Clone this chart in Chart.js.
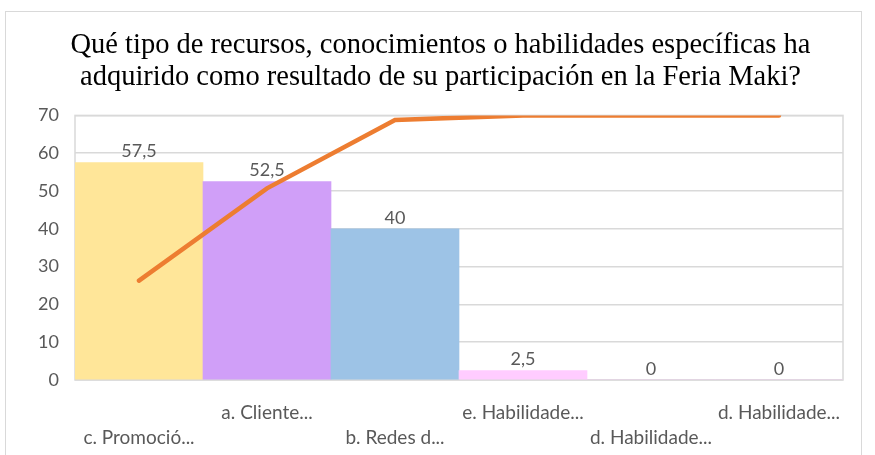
<!DOCTYPE html>
<html>
<head>
<meta charset="utf-8">
<script src="https://cdn.jsdelivr.net/npm/chart.js@4/dist/chart.umd.min.js"></script>
<style>
  html, body { margin: 0; padding: 0; background: #fff; }
  #wrap { position: relative; width: 875px; height: 455px; }
  #frame { position: absolute; left: 5px; top: 11px; width: 857px; height: 460px; border: 1px solid #d9d9d9; box-sizing: border-box; }
  canvas { position: absolute; left: 0; top: 0; }
</style>
</head>
<body>
<div id="wrap">
  <div id="frame"></div>
  <canvas id="chart" width="875" height="455"></canvas>
</div>
<script>
// category labels (truncated as in the picture)
const CATEGORIES = ["c. Promoció...", "a. Cliente...", "b. Redes d...", "e. Habilidade...", "d. Habilidade...", "d. Habilidade..."]
// bar values
const BAR_VALUES = [57.5, 52.5, 40, 2.5, 0, 0]
// orange line values
const LINE_VALUES = [26.3, 50.7, 68.8, 70, 70, 70]
const BAR_COLORS = ["#FFE699", "#D09FF8", "#9DC3E6", "#FFCCFF", "#FFCCFF", "#FFCCFF"]
const Y_TICKS = [0, 10, 20, 30, 40, 50, 60, 70]

const TICK_FONT = "Lato"
const GRAY = "#595959"

// labels staggered on two rows: odd ones on top row, even ones on bottom row
const xLabels = CATEGORIES.map((c, i) => i % 2 == 0 ? ["", c] : [c])

// bar value labels + frame around plot area
const extras = {
    id: "extras",
    beforeDatasetsDraw(chart) {
        const { ctx, chartArea } = chart
        ctx.save()
        ctx.strokeStyle = "#d9d9d9"
        ctx.lineWidth = 1.5
        ctx.strokeRect(chartArea.left, chartArea.top, chartArea.right - chartArea.left, chartArea.bottom - chartArea.top)
        ctx.restore()
    },
    afterDatasetsDraw(chart) {
        const { ctx } = chart
        const meta = chart.getDatasetMeta(1)
        ctx.save()
        ctx.font = "18px " + TICK_FONT
        ctx.fillStyle = GRAY
        ctx.textAlign = "center"
        ctx.textBaseline = "bottom"
        meta.data.forEach((bar, i) => {
            ctx.fillText(String(BAR_VALUES[i]).replace(".", ","), bar.x, bar.y - 2)
        })
        ctx.restore()
    }
}

const myChart = new Chart(document.getElementById("chart").getContext("2d"), {
    data: {
        labels: xLabels,
        datasets: [{
            type: "line",
            data: LINE_VALUES,
            borderColor: "#ED7D31",
            borderWidth: 4.5,
            pointRadius: 0,
            tension: 0,
            borderCapStyle: "round",
            order: 0
        }, {
            type: "bar",
            data: BAR_VALUES,
            backgroundColor: BAR_COLORS,
            categoryPercentage: 1,
            barPercentage: 1,
            order: 1
        }]
    },
    options: {
        responsive: false,
        animation: false,
        layout: { padding: { left: 38, right: 32, top: 10, bottom: 0 } },
        plugins: {
            legend: { display: false },
            tooltip: { enabled: false },
            title: {
                display: true,
                text: ["Qué tipo de recursos, conocimientos o habilidades específicas ha", "adquirido como resultado de su participación en la Feria Maki?"],
                font: { family: "Liberation Serif", size: 28.5, weight: "normal", lineHeight: 1.13 },
                color: "#000",
                padding: { top: 19, bottom: 22 }
            }
        },
        scales: {
            x: {
                grid: { display: false },
                border: { display: false },
                afterFit: (axis) => { axis.height = 75; axis.paddingLeft = 0; axis.paddingRight = 0 },
                ticks: {
                    autoSkip: false,
                    maxRotation: 0,
                    minRotation: 0,
                    padding: 12,
                    color: GRAY,
                    font: { family: TICK_FONT, size: 19, lineHeight: 1.32 }
                }
            },
            y: {
                min: 0,
                max: 70,
                afterBuildTicks: (axis) => { axis.ticks = Y_TICKS.map(v => ({ value: v })) },
                afterFit: (axis) => { axis.width = 37; axis.paddingTop = 0; axis.paddingBottom = 0 },
                grid: { color: "#d9d9d9", lineWidth: 1.5, drawTicks: false },
                border: { display: false },
                ticks: {
                    padding: 16,
                    color: GRAY,
                    font: { family: TICK_FONT, size: 18 }
                }
            }
        }
    },
    plugins: [extras]
})
</script>
</body>
</html>
